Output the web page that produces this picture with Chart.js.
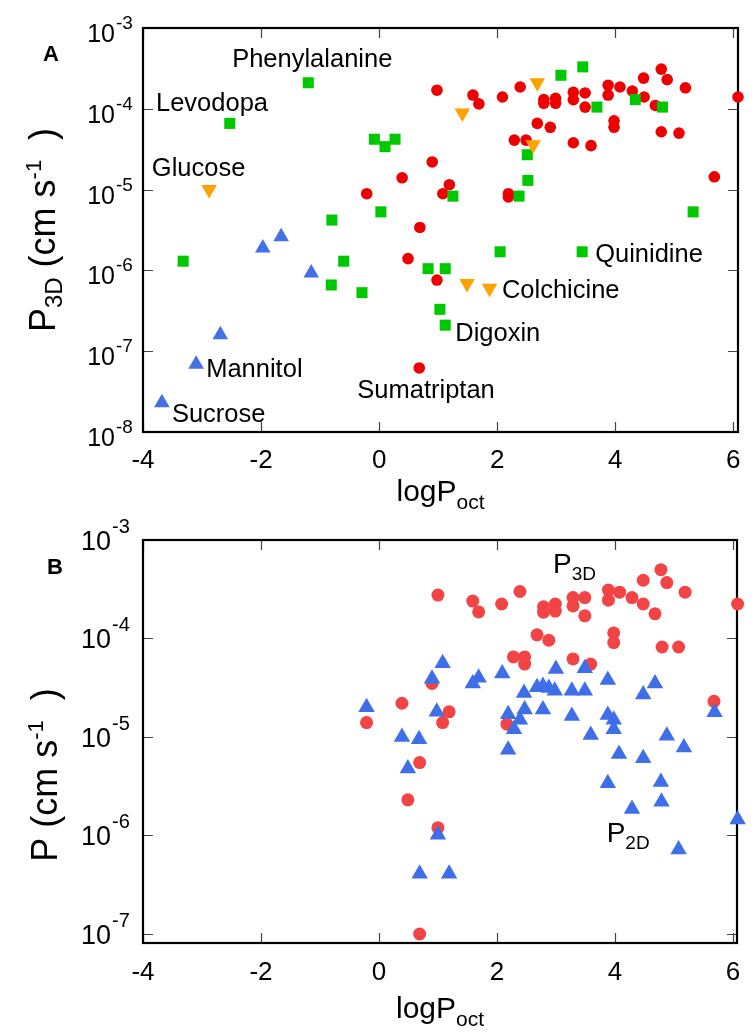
<!DOCTYPE html>
<html>
<head>
<meta charset="utf-8">
<script src="https://cdn.jsdelivr.net/npm/chart.js@4.4.0/dist/chart.umd.min.js"></script>
<style>
html, body { margin: 0; padding: 0; background: #fff; }
#wrap { position: relative; width: 756px; height: 1035px; overflow: hidden; }
.panel { position: absolute; left: 0; width: 756px; }
</style>
</head>
<body>
<div id="wrap">
  <div class="panel" style="top:0;height:520px"><canvas id="chartA"></canvas></div>
  <div class="panel" style="top:480px;height:555px"><canvas id="chartB"></canvas></div>
</div>
<script>
const FONT = "'Liberation Sans', Arial, Helvetica, sans-serif";

// ---- data (logPoct vs permeability, cm/s) ----
const xTicks = [-4, -2, 0, 2, 4, 6];
const yTicksA = [1e-8, 1e-7, 1e-6, 1e-5, 1e-4, 1e-3];
const yTicksB = [1e-7, 1e-6, 1e-5, 1e-4, 1e-3];

// panel A, P3D
const redAX = [0.98, 0.90, 0.39, 1.19, 1.08, -0.21, 0.69, 0.49, 0.98, 0.68,
  1.59, 1.69, 2.09, 2.39, 2.79, 2.79, 2.99, 2.99, 3.29, 3.29, 3.49, 3.49,
  3.88, 3.88, 4.08, 4.29, 4.48, 4.49, 4.68, 4.78, 4.88, 5.19, 6.08,
  2.68, 2.90, 3.98, 3.98, 2.29, 2.49, 3.29, 3.59, 4.78, 5.08, 2.19, 2.19, 5.68];
const redAY = [1.7e-4, 2.2e-5, 1.4e-5, 1.15e-5, 8.9e-6, 8.9e-6, 3.4e-6, 1.4e-6, 7.6e-7, 6.2e-8,
  1.48e-4, 1.15e-4, 1.4e-4, 1.86e-4, 1.3e-4, 1.17e-4, 1.35e-4, 1.17e-4, 1.6e-4, 1.3e-4, 1.57e-4, 1.05e-4,
  1.96e-4, 1.48e-4, 1.86e-4, 1.66e-4, 2.4e-4, 1.4e-4, 1.1e-4, 3.1e-4, 2.3e-4, 1.82e-4, 1.4e-4,
  6.6e-5, 5.9e-5, 7.1e-5, 5.9e-5, 4.1e-5, 4.1e-5, 3.8e-5, 3.5e-5, 5.2e-5, 5.0e-5, 8.9e-6, 8.1e-6, 1.44e-5];

const greenAX = [-1.20, -2.53, -0.08, 0.27, 0.10, 1.25, 0.03, -0.80, -3.32, -0.60, 0.83, 1.12,
  -0.81, -0.29, 1.03, 1.12, 3.08, 3.45, 3.69, 4.34, 4.80, 2.51, 2.52, 2.37, 5.32, 2.05, 3.44];
const greenAY = [2.1e-4, 6.6e-5, 4.2e-5, 4.2e-5, 3.4e-5, 8.3e-6, 5.3e-6, 4.2e-6, 1.3e-6, 1.3e-6, 1.05e-6, 1.05e-6,
  6.6e-7, 5.3e-7, 3.3e-7, 2.1e-7, 2.6e-4, 3.3e-4, 1.05e-4, 1.3e-4, 1.05e-4, 2.7e-5, 1.3e-5, 8.3e-6, 5.3e-6, 1.7e-6, 1.7e-6];

const orangeAX = [-2.88, 1.41, 2.68, 2.61, 1.49, 1.87];
const orangeAY = [1.0e-5, 8.9e-5, 2.1e-4, 3.6e-5, 6.9e-7, 6.0e-7];

const blueAX = [-1.66, -1.97, -1.15, -2.69, -3.10, -3.68];
const blueAY = [2.6e-6, 1.9e-6, 9.3e-7, 1.6e-7, 6.9e-8, 2.3e-8];

// panel B, P3D and P2D
const redBX = [1.00, 1.59, 1.69, 2.08, 2.39, 2.28, 2.47, 2.47, 0.90, 0.39, 1.19, 1.08, -0.21, 2.17,
  0.69, 0.49, 1.00, 0.69, 2.79, 2.79, 2.99, 2.99, 3.29, 3.29, 3.49, 3.49, 3.89, 3.89, 4.08, 4.29,
  4.48, 4.48, 4.68, 4.78, 4.88, 5.19, 6.08, 2.68, 2.88, 3.98, 3.98, 4.80, 5.08, 3.29, 3.59, 5.68];
const redBY = [2.76e-4, 2.4e-4, 1.86e-4, 2.24e-4, 3.0e-4, 6.5e-5, 6.5e-5, 5.5e-5, 3.5e-5, 2.2e-5, 1.8e-5, 1.4e-5, 1.4e-5, 1.35e-5,
  5.5e-6, 2.3e-6, 1.2e-6, 1.0e-7, 2.1e-4, 1.85e-4, 2.24e-4, 1.9e-4, 2.6e-4, 2.14e-4, 2.6e-4, 1.7e-4, 3.1e-4, 2.45e-4, 2.95e-4, 2.6e-4,
  3.9e-4, 2.24e-4, 1.78e-4, 5.0e-4, 3.7e-4, 2.95e-4, 2.24e-4, 1.09e-4, 9.6e-5, 1.14e-4, 9.1e-5, 8.2e-5, 8.2e-5, 6.2e-5, 5.5e-5, 2.3e-5];

const blueBX = [1.08, 0.90, 1.69, 1.59, 2.09, -0.21, 0.98, 2.46, 2.47, 2.19, 2.39, 2.29, 2.19, 0.39,
  0.68, 0.49, 1.00, 0.69, 1.19, 3.00, 3.49, 2.68, 2.78, 2.88, 2.98, 3.27, 3.49, 3.88, 4.68, 4.48,
  2.78, 3.27, 3.88, 3.98, 3.98, 3.59, 4.88, 4.07, 4.48, 5.17, 5.69, 3.88, 4.78, 4.79, 4.29, 5.08, 6.08];
const blueBY = [5.6e-5, 3.9e-5, 4.0e-5, 3.5e-5, 4.4e-5, 2.0e-5, 1.8e-5, 2.8e-5, 1.9e-5, 1.7e-5, 1.5e-5, 1.2e-5, 7.4e-6, 1.0e-5,
  9.5e-6, 4.8e-6, 1.02e-6, 4.1e-7, 4.1e-7, 4.9e-5, 5.0e-5, 3.2e-5, 3.3e-5, 3.15e-5, 2.95e-5, 2.95e-5, 2.95e-5, 3.8e-5, 3.5e-5, 2.7e-5,
  1.9e-5, 1.63e-5, 1.67e-5, 1.5e-5, 1.2e-5, 1.05e-5, 1.03e-5, 6.7e-6, 6.1e-6, 7.8e-6, 1.78e-5, 3.4e-6, 3.5e-6, 2.2e-6, 1.86e-6, 7.2e-7, 1.45e-6];

// compound names in panel A
const compoundNames = ['Phenylalanine', 'Levodopa', 'Glucose', 'Mannitol', 'Sucrose',
  'Sumatriptan', 'Digoxin', 'Colchicine', 'Quinidine'];

function pts(xs, ys) {
  return xs.map((x, i) => ({ x: x, y: ys[i] }));
}

function marker(data, style, color, r, rot) {
  return {
    data: data,
    pointStyle: style,
    pointRadius: r,
    pointHoverRadius: r,
    pointRotation: rot || 0,
    pointBackgroundColor: color,
    pointBorderColor: color,
    pointBorderWidth: 0,
    backgroundColor: color,
    borderColor: color,
    showLine: false,
    clip: false
  };
}

// text made of pieces: [text, size, dy]
function richText(ctx, parts, x, y, align) {
  let w = 0;
  parts.forEach(p => { ctx.font = p[1] + 'px ' + FONT; w += ctx.measureText(p[0]).width; });
  let cx = align === 'center' ? x - w / 2 : (align === 'right' ? x - w : x);
  ctx.textAlign = 'left';
  ctx.textBaseline = 'alphabetic';
  parts.forEach(p => {
    ctx.font = p[1] + 'px ' + FONT;
    ctx.fillText(p[0], cx, y + (p[2] || 0));
    cx += ctx.measureText(p[0]).width;
  });
}

function framePlugin(o) {
  return {
    id: 'frame' + o.name,
    beforeDatasetsDraw(chart) {
      const ctx = chart.ctx;
      const a = chart.chartArea;
      const xs = chart.scales.x, ys = chart.scales.y;
      ctx.save();
      ctx.strokeStyle = '#444';
      ctx.lineWidth = 1.2;
      ctx.beginPath();
      xTicks.forEach(v => {
        const px = Math.round(xs.getPixelForValue(v)) + 0.5;
        ctx.moveTo(px, a.bottom); ctx.lineTo(px, a.bottom - 10);
        ctx.moveTo(px, a.top); ctx.lineTo(px, a.top + 10);
      });
      o.yTicks.forEach(v => {
        const py = Math.round(ys.getPixelForValue(v)) + 0.5;
        ctx.moveTo(a.left, py); ctx.lineTo(a.left + 10, py);
        ctx.moveTo(a.right, py); ctx.lineTo(a.right - 10, py);
      });
      ctx.stroke();
      ctx.strokeStyle = '#000';
      ctx.lineWidth = 2.2;
      ctx.strokeRect(a.left, a.top, a.right - a.left, a.bottom - a.top);
      ctx.restore();
    },
    afterDraw(chart) {
      const ctx = chart.ctx;
      const a = chart.chartArea;
      const xs = chart.scales.x, ys = chart.scales.y;
      ctx.save();
      ctx.fillStyle = '#000';
      // y tick labels 10^n
      o.yTicks.forEach(v => {
        const py = ys.getPixelForValue(v);
        const e = Math.round(Math.log10(v));
        ctx.font = o.tenSize + 'px ' + FONT;
        ctx.textAlign = 'right';
        ctx.textBaseline = 'alphabetic';
        ctx.fillText('10', a.left - o.tenGap, py + o.tenDy);
        ctx.font = o.expSize + 'px ' + FONT;
        ctx.textAlign = 'left';
        ctx.fillText(String(e), a.left - o.tenGap + 1, py + o.expDy);
      });
      // x title
      richText(ctx, [['logP', 30], ['oct', 21, 8]], (a.left + a.right) / 2, o.xTitleY, 'center');
      // y title
      ctx.save();
      ctx.translate(o.yTitleX, o.yTitleY);
      ctx.rotate(-Math.PI / 2);
      richText(ctx, o.yTitle, 0, 0, 'center');
      ctx.restore();
      // panel letter
      ctx.font = 'bold 22px ' + FONT;
      ctx.textAlign = 'left';
      ctx.fillText(o.letter, o.letterX, o.letterY);
      // annotations in data space
      o.notes.forEach(n => {
        richText(ctx, n.parts, xs.getPixelForValue(n.x), ys.getPixelForValue(n.y), 'left');
      });
      ctx.restore();
    }
  };
}

function makeChart(id, datasets, o) {
  return new Chart(document.getElementById(id), {
    type: 'scatter',
    data: { datasets: datasets },
    options: {
      responsive: true,
      maintainAspectRatio: false,
      animation: false,
      layout: { padding: o.padding },
      plugins: { legend: { display: false }, tooltip: { enabled: false } },
      scales: {
        x: {
          type: 'linear', min: -4, max: o.xMax,
          afterBuildTicks: s => { s.ticks = xTicks.map(v => ({ value: v })); },
          afterFit: s => { s.height = o.xAxisH; },
          grid: { display: false, drawTicks: false },
          border: { display: false },
          ticks: { font: { family: FONT, size: o.xTickSize }, color: '#000', padding: o.xTickPad,
                   maxRotation: 0, autoSkip: false }
        },
        y: { type: 'logarithmic', min: o.yMin, max: o.yMax, display: false }
      }
    },
    plugins: [framePlugin(o)]
  });
}

const NOTE = 25.5;
makeChart('chartA', [
  marker(pts(orangeAX, orangeAY), 'triangle', '#ffa200', 9, 180),
  marker(pts(greenAX, greenAY), 'rect', '#00c800', 7.8),
  marker(pts(blueAX, blueAY), 'triangle', '#4470e6', 9),
  marker(pts(redAX, redAY), 'circle', '#ee0000', 5.8)
], {
  name: 'A', letter: 'A', letterX: 43, letterY: 61,
  padding: { left: 143, right: 18, top: 28, bottom: 0 },
  xMax: 6.08, xAxisH: 88, xTickSize: 26, xTickPad: 13,
  yMin: 1e-8, yMax: 1e-3, yTicks: yTicksA,
  tenSize: 25, expSize: 19, tenGap: 28, tenDy: 14, expDy: 1,
  xTitleY: 501,
  yTitleX: 55, yTitleY: 230,
  yTitle: [['P', 36], ['3D', 24, 7], [' (cm s', 36], ['-1', 22, -14], ['  )', 36]],
  notes: [
    { parts: [[compoundNames[0], NOTE]], x: -2.49, y: 3.29e-4 },
    { parts: [[compoundNames[1], NOTE]], x: -3.78, y: 9.4e-5 },
    { parts: [[compoundNames[2], NOTE]], x: -3.85, y: 1.47e-5 },
    { parts: [[compoundNames[3], NOTE]], x: -2.93, y: 4.8e-8 },
    { parts: [[compoundNames[4], NOTE]], x: -3.51, y: 1.33e-8 },
    { parts: [[compoundNames[5], NOTE]], x: -0.37, y: 2.64e-8 },
    { parts: [[compoundNames[6], NOTE]], x: 1.29, y: 1.34e-7 },
    { parts: [[compoundNames[7], NOTE]], x: 2.08, y: 4.55e-7 },
    { parts: [[compoundNames[8], NOTE]], x: 3.66, y: 1.27e-6 }
  ]
});

makeChart('chartB', [
  marker(pts(blueBX, blueBY), 'triangle', '#3f6fe8', 9.5),
  marker(pts(redBX, redBY), 'circle', '#f24444', 6.5)
], {
  name: 'B', letter: 'B', letterX: 47, letterY: 94,
  padding: { left: 143, right: 19, top: 60, bottom: 0 },
  xMax: 6.07, xAxisH: 92, xTickSize: 26, xTickPad: 14,
  yMin: 8.1e-8, yMax: 1e-3, yTicks: yTicksB,
  tenSize: 27, expSize: 20, tenGap: 32, tenDy: 10, expDy: -7,
  xTitleY: 538,
  yTitleX: 57, yTitleY: 295,
  yTitle: [['P', 36], [' (cm s', 36], ['-1', 22, -14], ['  )', 36]],
  notes: [
    { parts: [['P', 28], ['3D', 19, 7]], x: 2.95, y: 4.62e-4 },
    { parts: [['P', 28], ['2D', 19, 7]], x: 3.86, y: 8.6e-7 }
  ]
});
</script>
</body>
</html>
